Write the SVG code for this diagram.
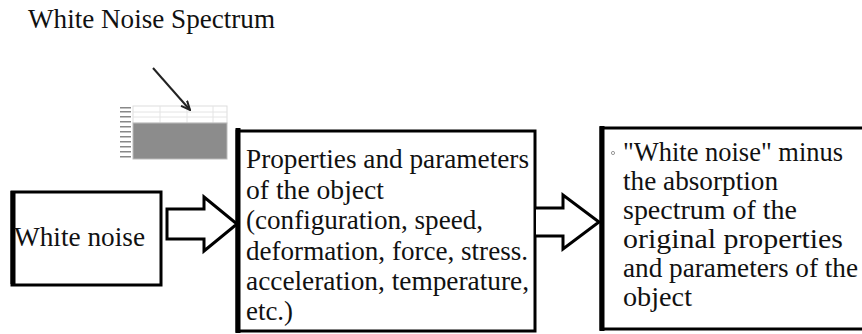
<svg xmlns="http://www.w3.org/2000/svg" width="862" height="334" viewBox="0 0 862 334">
<style>
.t{font-family:'Liberation Serif','DejaVu Serif',serif;font-size:27px;fill:#111}
.box{fill:#fff;stroke:#000;stroke-width:3}
.edge{stroke:#000;stroke-width:5}
.blk{fill:#fff;stroke:#000;stroke-width:3;stroke-linejoin:miter}
.lbl{fill:#888}
</style>
<defs>
<marker id="ah" viewBox="0 0 10 10" refX="9" refY="5" markerWidth="10" markerHeight="10" orient="auto" markerUnits="userSpaceOnUse">
<path d="M0,1 L9,5 L0,9" fill="none" stroke="#222" stroke-width="2"/>
</marker>
</defs>
<rect width="862" height="334" fill="#fff"/>
<g id="title" font-family="Liberation Serif, serif">
<text class="t" x="28" y="28" textLength="247" lengthAdjust="spacingAndGlyphs">White Noise Spectrum</text>
</g>
<g id="spectrum">
<rect x="133" y="106" width="94" height="17" fill="#fff" stroke="#ddd" stroke-width="1"/>
<line x1="133" y1="112" x2="227" y2="112" stroke="#e4e4e4"/>
<line x1="133" y1="117" x2="227" y2="117" stroke="#e4e4e4"/>
<line x1="160" y1="106" x2="160" y2="123" stroke="#e4e4e4"/>
<line x1="187" y1="106" x2="187" y2="123" stroke="#e4e4e4"/>
<line x1="213" y1="106" x2="213" y2="123" stroke="#e4e4e4"/>
<rect x="133" y="123" width="94" height="36" fill="#8c8c8c" stroke="#bbb" stroke-width="1"/>
<g class="lbl">
<rect x="120" y="107" width="11" height="1.5"/>
<rect x="120" y="111" width="11" height="1.5"/>
<rect x="120" y="116" width="11" height="1.5"/>
<rect x="120" y="121" width="11" height="1.5"/>
<rect x="120" y="126" width="11" height="1.5"/>
<rect x="120" y="131" width="11" height="1.5"/>
<rect x="120" y="136" width="11" height="1.5"/>
<rect x="120" y="141" width="11" height="1.5"/>
<rect x="120" y="146" width="11" height="1.5"/>
<rect x="120" y="151" width="11" height="1.5"/>
<rect x="120" y="156" width="11" height="1.5"/>
</g>
</g>
<g id="white-noise" font-family="Liberation Serif, serif">
<rect class="box" x="12" y="192" width="149" height="93"/>
<line class="edge" x1="13" y1="191" x2="13" y2="284"/>
<text class="t" x="14" y="246" textLength="131" lengthAdjust="spacingAndGlyphs">White noise</text>
</g>
<g id="properties" font-family="Liberation Serif, serif">
<rect class="box" x="237" y="131" width="298" height="200"/>
<line class="edge" x1="238" y1="128" x2="238" y2="333"/>
<text class="t" x="246" y="168" textLength="283" lengthAdjust="spacingAndGlyphs">Properties and parameters</text>
<text class="t" x="246" y="199" textLength="138" lengthAdjust="spacingAndGlyphs">of the object</text>
<text class="t" x="246" y="229" textLength="237" lengthAdjust="spacingAndGlyphs">(configuration, speed,</text>
<text class="t" x="246" y="260" textLength="282" lengthAdjust="spacingAndGlyphs">deformation, force, stress.</text>
<text class="t" x="246" y="290" textLength="283" lengthAdjust="spacingAndGlyphs">acceleration, temperature,</text>
<text class="t" x="246" y="320" textLength="47" lengthAdjust="spacingAndGlyphs">etc.)</text>
</g>
<g id="result" font-family="Liberation Serif, serif">
<rect class="box" x="601" y="128" width="270" height="201"/>
<line class="edge" x1="602" y1="126" x2="602" y2="331"/>
<circle cx="613" cy="153" r="1.6" fill="none" stroke="#999" stroke-width="1"/>
<text class="t" x="623" y="161" textLength="220" lengthAdjust="spacingAndGlyphs">"White noise" minus</text>
<text class="t" x="623" y="190" textLength="155" lengthAdjust="spacingAndGlyphs">the absorption</text>
<text class="t" x="623" y="219" textLength="174" lengthAdjust="spacingAndGlyphs">spectrum of the</text>
<text class="t" x="623" y="248" textLength="220" lengthAdjust="spacingAndGlyphs">original properties</text>
<text class="t" x="623" y="277" textLength="235" lengthAdjust="spacingAndGlyphs">and parameters of the</text>
<text class="t" x="623" y="306" textLength="69" lengthAdjust="spacingAndGlyphs">object</text>
</g>
<g id="connectors">
<line x1="153" y1="68" x2="190" y2="110" stroke="#222" stroke-width="2" marker-end="url(#ah)"/>
<polygon class="blk" points="167,209 204,209 204,197 237,224 204,251 204,239 167,239"/>
<path class="blk" d="M536,208 L563,208 L563,195 L599,222 L563,249 L563,236 L536,236"/>
</g>
</svg>
